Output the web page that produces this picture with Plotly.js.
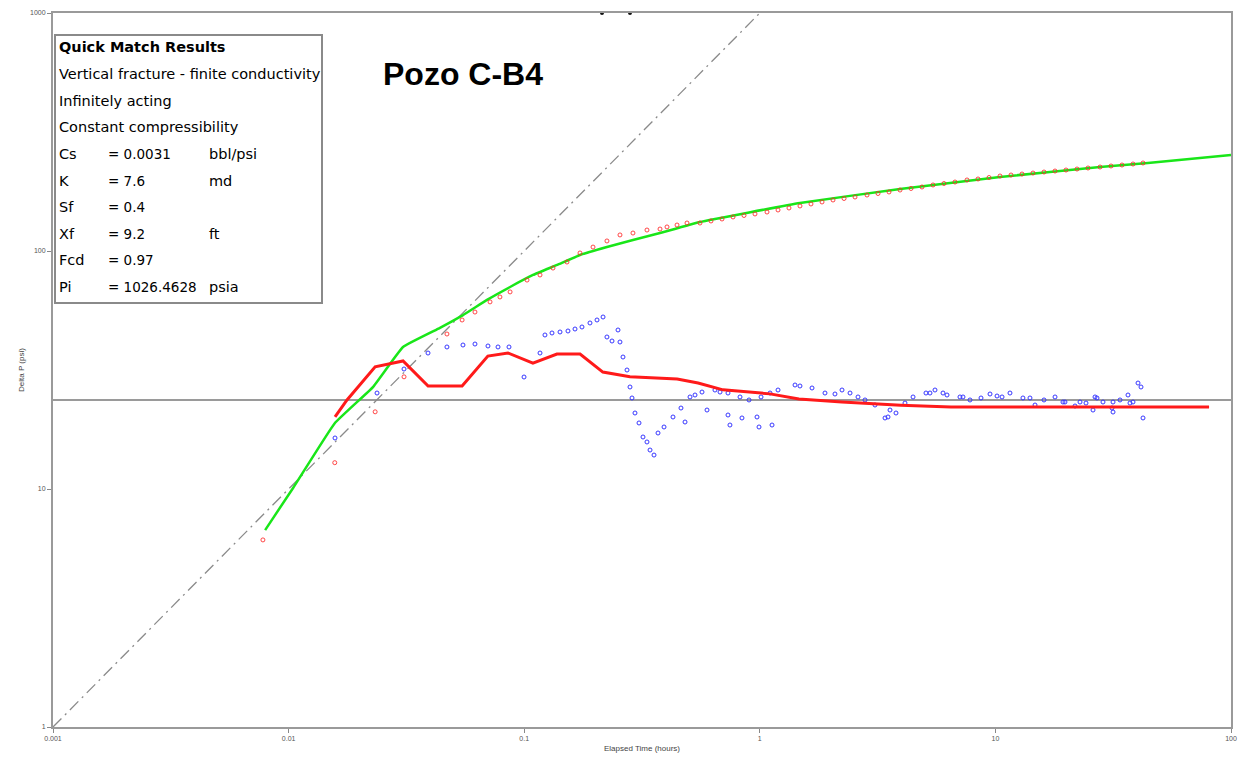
<!DOCTYPE html>
<html>
<head>
<meta charset="utf-8">
<script src="https://cdn.plot.ly/plotly-3.0.1.min.js"></script>
<style>html,body{margin:0;padding:0;background:#fff;}#chart{width:1246px;height:767px;}</style>
</head>
<body>
<div id="chart"></div>
<script>
// ---- data ----
const chartTitle = 'Pozo C-B4';
const xAxisTitle = 'Elapsed Time (hours)';
const yAxisTitle = 'Delta P (psi)';
const xTickVals = [0.001, 0.01, 0.1, 1, 10, 100];
const xTickText = ['0.001', '0.01', '0.1', '1', '10', '100'];
const yTickVals = [1, 10, 100, 1000];
const yTickText = ['1', '10', '100', '1000'];

// unit-slope reference line
const unitSlopeX = [0.001, 1];
const unitSlopeY = [1, 1000];

// radial-flow stabilization line
const stabX = [0.001, 100];
const stabY = [23.66, 23.66];

// measured pressure change (red points)
const pressX = [0.00778, 0.0157, 0.0233, 0.0309, 0.0470, 0.0545, 0.0618, 0.0716, 0.0789, 0.0871,
  0.1028, 0.1167, 0.1325, 0.1519, 0.1725, 0.1959, 0.2245, 0.2550, 0.2895, 0.3320, 0.3771, 0.4038, 0.4453, 0.4909,
  0.5573, 0.6206, 0.6912, 0.7698, 0.8570, 0.9541, 1.073, 1.195, 1.330, 1.481, 1.649, 1.837, 2.045, 2.278,
  2.536, 2.851, 3.175, 3.535, 3.937, 4.383, 4.881, 5.435, 6.050, 6.738, 7.576, 8.437, 9.396, 10.46,
  11.65, 12.97, 14.44, 16.08, 17.91, 19.94, 22.20, 24.72, 27.80, 30.95, 34.46, 38.37, 42.32];
const pressY = [6.11, 12.9, 21.1, 29.6, 44.8, 51.3, 55.4, 61.1, 64.1, 67.3,
  75.5, 79.3, 84.8, 89.9, 98.1, 103.9, 110.2, 116.8, 119.0, 122.5, 123.7, 126.2, 128.6, 131.1,
  131.1, 133.7, 136.3, 139.0, 141.0, 143.1, 145.8, 148.7, 151.6, 154.6, 157.6, 160.7, 163.8, 166.2,
  168.6, 171.9, 174.4, 177.0, 180.4, 183.1, 185.8, 189.4, 192.1, 194.9, 198.8, 200.7, 203.6, 206.6,
  208.6, 210.6, 212.6, 214.7, 216.8, 218.9, 221.0, 223.2, 225.4, 227.6, 229.8, 232.0, 234.3];

// measured pressure derivative (blue points)
const derivX = [0.01574, 0.02373, 0.03089, 0.03906, 0.0470, 0.05497, 0.06181, 0.07019, 0.07741, 0.08619,
  0.09982, 0.1167, 0.1225, 0.1312, 0.1419, 0.1534, 0.1643, 0.1759, 0.1902, 0.2037, 0.2161, 0.2245,
  0.2359, 0.2501, 0.2550, 0.2626, 0.2731, 0.2812, 0.2868, 0.2953, 0.3071, 0.3193, 0.3320, 0.3420,
  0.3556, 0.3698, 0.3922, 0.4281, 0.4628, 0.5055, 0.5684, 0.6453, 0.7328, 0.8241, 0.9000, 1.012,
  1.195, 1.411, 1.666, 1.891, 2.233, 2.611, 3.083, 3.501, 3.785, 4.133, 4.471, 5.074, 5.992, 7.073,
  8.688, 10.67, 13.09, 16.08, 19.74, 24.24, 28.62, 33.80, 38.37, 41.50, 42.32,
  0.4815, 0.5969, 0.7328, 0.7470, 0.8401, 0.9730, 0.9922, 1.127,
  11.53, 14.73, 17.91, 21.77, 26.47, 31.25, 36.54, 40.30, 5.541, 7.801, 9.486,
  5.277, 6.232, 7.285, 10.16, 14.02, 19.36, 22.86, 26.99, 31.57, 37.26, 25.96, 31.57, 3.570, 3.400,
  0.5309, 0.6779, 1.105, 1.481, 2.085, 2.415, 2.796];
const derivY = [16.38, 25.31, 31.93, 37.27, 39.51, 40.27, 40.66, 39.89, 39.51, 39.51,
  29.55, 37.27, 44.37, 45.24, 45.68, 46.12, 47.02, 47.94, 49.84, 51.30, 52.81, 43.52,
  41.86, 46.57, 41.46, 35.86, 31.62, 26.83, 24.12, 20.86, 18.94, 16.54, 15.76, 14.58,
  13.89, 17.19, 18.22, 20.07, 21.89, 24.36, 25.55, 26.06, 25.31, 24.36, 23.66, 24.36,
  26.06, 27.35, 26.57, 25.31, 26.06, 24.36, 22.54, 20.07, 20.86, 22.97, 24.36, 25.31, 25.31, 24.36,
  24.12, 24.36, 24.12, 23.66, 23.20, 22.97, 23.20, 23.66, 23.20, 26.83, 19.88,
  19.12, 21.47, 20.46, 18.57, 19.88, 20.07, 18.22, 18.57,
  25.31, 22.54, 24.36, 22.32, 24.36, 21.89, 24.83, 27.88, 26.06, 23.66, 25.07,
  25.31, 24.83, 24.36, 24.59, 24.12, 23.20, 23.20, 24.12, 23.20, 22.97, 21.47, 21.06, 21.47, 19.88,
  24.83, 25.55, 25.31, 27.09, 25.07, 25.31, 23.66];

// model pressure (green line)
const modelX = [0.00795, 0.01045, 0.0157, 0.0228, 0.0306, 0.0439, 0.0550, 0.0695, 0.0871, 0.109,
  0.138, 0.1725, 0.2245, 0.2895, 0.377, 0.5573, 1.481, 3.937, 10.46, 27.80, 44.4, 100];
const modelY = [6.72, 10.1, 18.9, 26.8, 39.5, 47.5, 53.8, 62.3, 70.6, 79.3,
  87.4, 96.2, 103.9, 111.2, 119.0, 132.4, 159.1, 182.2, 204.6, 225.4, 234.3, 253.2];

// model derivative (red line)
const modelDerX = [0.01574, 0.0177, 0.0233, 0.0306, 0.0391, 0.0545, 0.0701, 0.0853, 0.1089, 0.1377,
  0.1726, 0.2157, 0.281, 0.446, 0.547, 0.698, 1.105, 1.466, 2.23, 3.97, 6.48, 16.1, 80.7];
const modelDerY = [20.07, 23.66, 32.6, 34.5, 27.1, 27.1, 36.2, 37.3, 33.8, 36.9,
  36.9, 31.0, 29.6, 29.0, 27.9, 26.1, 25.1, 23.9, 23.2, 22.5, 22.1, 22.1, 22.1];

// off-scale points on the top border
const topX = [0.2139, 0.2812];
const topY = [1000, 1000];

// results box text
const boxHeader = 'Quick Match Results';
const boxLines = ['Vertical fracture - finite conductivity', 'Infinitely acting', 'Constant compressibility'];
const paramNames = ['Cs', 'K', 'Sf', 'Xf', 'Fcd', 'Pi'];
const paramValues = ['= 0.0031', '= 7.6', '= 0.4', '= 9.2', '= 0.97', '= 1026.4628'];
const paramUnits = ['bbl/psi', 'md', '', 'ft', '', 'psia'];

// ---- layout helpers (pixel -> paper) ----
const M = {l: 53, r: 15, t: 13, b: 40};
const W = 1246, H = 767;
const PW = W - M.l - M.r, PH = H - M.t - M.b;
const px = v => (v - M.l) / PW;
const py = v => (H - M.b - v) / PH;

const boxFont = {family: 'DejaVu Sans, Verdana, sans-serif', size: 14.5, color: '#000'};
const valFont = {family: 'DejaVu Sans, Verdana, sans-serif', size: 13.5, color: '#000'};
const annotations = [];
function addText(text, x, y, font, anchor) {
  annotations.push({text: text, xref: 'paper', yref: 'paper', x: px(x), y: py(y),
    xanchor: anchor || 'left', yanchor: 'middle', showarrow: false, font: font || boxFont});
}
addText('<b>' + boxHeader + '</b>', 57, 47);
boxLines.forEach((t, i) => addText(t, 57, 74 + i * 26.6));
paramNames.forEach((t, i) => {
  const y = 154 + i * 26.6;
  addText(t, 57, y);
  addText(paramValues[i], 106, y, valFont);
  if (paramUnits[i]) addText(paramUnits[i], 207, y);
});
addText('<b>' + chartTitle + '</b>', 381, 74, {family: 'Liberation Sans, Arial, sans-serif', size: 32, color: '#000'});

const tickFont = {family: 'Liberation Sans Narrow, Liberation Sans, sans-serif', size: 7, color: '#555'};

const traces = [
  {x: stabX, y: stabY, mode: 'lines', line: {color: '#9a9a9a', width: 2}, hoverinfo: 'skip'},
  {x: unitSlopeX, y: unitSlopeY, mode: 'lines', line: {color: '#8a8a8a', width: 1.3, dash: '12px,5px,2px,5px'}, hoverinfo: 'skip'},
  {x: derivX, y: derivY, mode: 'markers', marker: {symbol: 'circle-open', size: 4, color: '#3838ff', line: {width: 1}}},
  {x: modelX, y: modelY, mode: 'lines', line: {color: '#19e619', width: 2.5, shape: 'spline', smoothing: 0.3}},
  {x: pressX, y: pressY, mode: 'markers', marker: {symbol: 'circle-open', size: 4, color: 'rgba(255,40,40,0.85)', line: {width: 1}}},
  {x: modelDerX, y: modelDerY, mode: 'lines', line: {color: '#ff1a1a', width: 3}},
  {x: topX, y: topY, mode: 'markers', marker: {size: 4, color: '#111'}, cliponaxis: false}
];

const layout = {
  width: W, height: H,
  margin: M,
  paper_bgcolor: '#fff', plot_bgcolor: '#fff',
  showlegend: false,
  xaxis: {
    type: 'log', range: [-3, 2], tickvals: xTickVals, ticktext: xTickText,
    showgrid: false, zeroline: false, showline: true, mirror: true,
    linecolor: '#9a9a9a', linewidth: 2, ticks: 'outside', ticklen: 4, tickcolor: '#888',
    tickfont: tickFont,
    title: {text: xAxisTitle, font: {family: 'Liberation Sans Narrow, Liberation Sans, sans-serif', size: 8, color: '#444'}, standoff: 4}
  },
  yaxis: {
    type: 'log', range: [0, 3], tickvals: yTickVals, ticktext: yTickText,
    showgrid: false, zeroline: false, showline: true, mirror: true,
    linecolor: '#9a9a9a', linewidth: 2, ticks: 'outside', ticklen: 4, tickcolor: '#888',
    tickfont: tickFont,
    title: {text: yAxisTitle, font: {family: 'Liberation Sans Narrow, Liberation Sans, sans-serif', size: 8, color: '#444'}, standoff: 4}
  },
  shapes: [
    {type: 'rect', xref: 'paper', yref: 'paper', x0: px(55), x1: px(322), y0: py(35), y1: py(303),
     line: {color: '#8a8a8a', width: 2}, fillcolor: 'rgba(255,255,255,0.95)', layer: 'above'}
  ],
  annotations: annotations
};

Plotly.newPlot('chart', traces, layout, {displayModeBar: false, staticPlot: true});
</script>
</body>
</html>
